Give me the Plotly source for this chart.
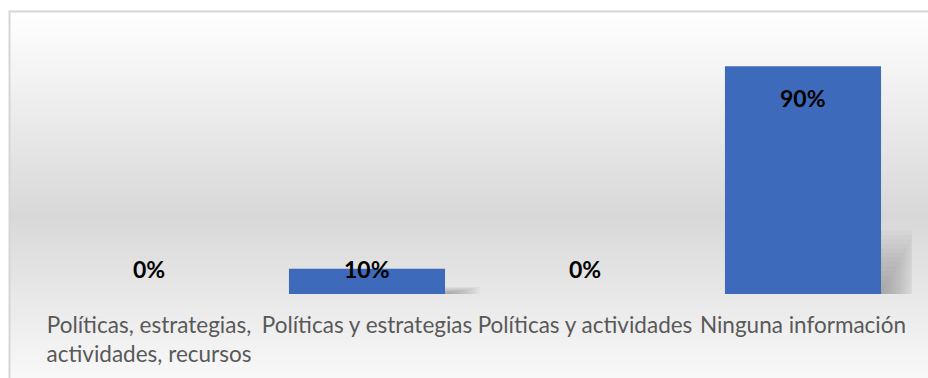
import plotly.graph_objects as go

# Chart data
categories = [
    "Políticas, estrategias,<br>actividades, recursos",
    "Políticas y estrategias",
    "Políticas y actividades",
    "Ninguna información",
]
values = [0, 10, 0, 90]
value_labels = ["0%", "10%", "0%", "90%"]

W, H = 928, 378
M_L, M_R, M_T, M_B = 40, 16, 41, 84
PLOT_W = W - M_L - M_R
PLOT_H = H - M_T - M_B


def px_to_paper_x(px):
    return (px - M_L) / PLOT_W


def px_to_paper_y(py):
    return (H - M_B - py) / PLOT_H


shapes = []

# Vertical background gradient: white -> light grey -> white
top_px, mid_px, end_px = 11, 215, 410
light, dark = 255, 216
step = 2
for py in range(top_px, H + step, step):
    if py <= mid_px:
        c = light - (light - dark) * (py - top_px) / (mid_px - top_px)
    else:
        c = dark + (light - dark) * (py - mid_px) / (end_px - mid_px)
    c = int(round(c))
    shapes.append(dict(
        type="rect", xref="paper", yref="paper", layer="below",
        x0=px_to_paper_x(9), x1=px_to_paper_x(W + 5),
        y0=px_to_paper_y(py + step), y1=px_to_paper_y(py),
        fillcolor=f"rgb({c},{c},{c})", line=dict(width=0),
    ))

# Soft drop shadow to the lower right of each bar
bar_width = 0.716
for i, v in enumerate(values):
    if v <= 0:
        continue
    xr = i + bar_width / 2
    n_layers = 14
    for k in range(n_layers):
        f = 1 - k / n_layers
        shapes.append(dict(
            type="rect", xref="x", yref="y", layer="below",
            x0=xr - 0.01, x1=xr + 0.16 * f,
            y0=-1.0, y1=v * 0.28 * f,
            fillcolor="rgba(110,110,110,0.05)", line=dict(width=0),
        ))

# Chart area border (top and left edges)
shapes.append(dict(
    type="path", xref="paper", yref="paper", layer="above",
    path=(f"M {px_to_paper_x(9.5)} {px_to_paper_y(H + 5)} "
          f"L {px_to_paper_x(9.5)} {px_to_paper_y(11.5)} "
          f"L {px_to_paper_x(W + 5)} {px_to_paper_y(11.5)}"),
    line=dict(color="#d6d6d6", width=2),
))

fig = go.Figure()
fig.add_trace(go.Bar(
    x=list(range(len(categories))),
    y=values,
    width=bar_width,
    marker=dict(color="#3d6aba", line=dict(width=0)),
    hoverinfo="skip",
))

# Data labels: tall bars carry the label inside the top end,
# short ones sit at a fixed height above the axis
label_floor = 10
label_font = dict(family="Lato", size=23, color="#000000")
annotations = []
for i, (v, t) in enumerate(zip(values, value_labels)):
    if v > 2 * label_floor:
        annotations.append(dict(
            x=i, y=v, xref="x", yref="y", text=f"<b>{t}</b>",
            showarrow=False, yanchor="middle", yshift=-32,
            font=label_font,
        ))
    else:
        annotations.append(dict(
            x=i, y=max(v, label_floor), xref="x", yref="y", text=f"<b>{t}</b>",
            showarrow=False, yanchor="middle",
            font=label_font,
        ))

fig.update_layout(
    width=W, height=H,
    margin=dict(l=M_L, r=M_R, t=M_T, b=M_B, autoexpand=False),
    paper_bgcolor="#ffffff",
    plot_bgcolor="rgba(0,0,0,0)",
    showlegend=False,
    shapes=shapes,
    annotations=annotations,
    xaxis=dict(
        tickmode="array",
        tickvals=list(range(len(categories))),
        ticktext=categories,
        range=[-0.5, len(categories) - 0.5],
        showgrid=False, zeroline=False, showline=False, ticks="",
        tickfont=dict(family="Lato", size=22.5, color="#595959"),
        ticklabelstandoff=15,
        automargin=False,
        fixedrange=True,
    ),
    yaxis=dict(
        range=[0, 100], visible=False, showgrid=False, zeroline=False,
        automargin=False,
        fixedrange=True,
    ),
)

fig.write_html("out.html", config={"displayModeBar": False})
